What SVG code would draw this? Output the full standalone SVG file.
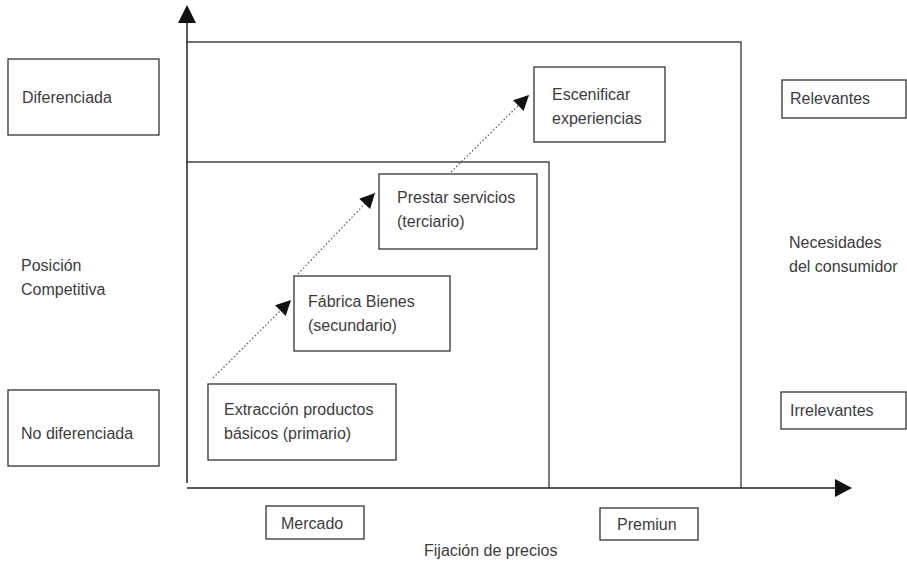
<svg xmlns="http://www.w3.org/2000/svg" width="907" height="562" viewBox="0 0 907 562">
  <style>
    .box { fill: #fff; stroke: #333; stroke-width: 1.3; }
    .frame { fill: none; stroke: #444; stroke-width: 1.4; }
    .axis { fill: none; stroke: #222; stroke-width: 1.5; }
    .step { fill: none; stroke: #555; stroke-width: 1.2; stroke-dasharray: 1.5 2.2; }
    text { font-family: "Liberation Sans", Arial, sans-serif; font-size: 16px; fill: #3c3c3c; }
  </style>
  <defs>
    <marker id="head" viewBox="0 0 10 10" refX="10" refY="5" markerWidth="17" markerHeight="15" markerUnits="userSpaceOnUse" orient="auto">
      <path d="M0,0 L10,5 L0,10 Z" fill="#111"/>
    </marker>
  </defs>

  <rect width="907" height="562" fill="#fff"/>

  <!-- quadrant frames -->
  <g id="frames">
    <polyline class="frame" points="187,42 741,42 741,488"/>
    <polyline class="frame" points="187,162 549,162 549,488"/>
  </g>

  <!-- axes and progression arrows -->
  <g id="connectors">
    <line class="axis" x1="187" y1="483" x2="187" y2="22"/>
    <polygon points="178,23 196,23 187,5" fill="#111"/>
    <line class="axis" x1="187" y1="488" x2="836" y2="488"/>
    <polygon points="835,479 835,497 852,488" fill="#111"/>
    <line class="step" x1="213" y1="378" x2="291" y2="300" marker-end="url(#head)"/>
    <line class="step" x1="298" y1="274" x2="375" y2="193" marker-end="url(#head)"/>
    <line class="step" x1="451" y1="172" x2="529" y2="95" marker-end="url(#head)"/>
  </g>

  <g id="diferenciada">
    <rect class="box" x="8" y="59" width="151" height="76"/>
    <text x="22" y="103">Diferenciada</text>
  </g>
  <g id="posicion">
    <text x="21" y="271">Posición</text>
    <text x="21" y="295">Competitiva</text>
  </g>
  <g id="no-diferenciada">
    <rect class="box" x="8" y="390" width="151" height="76"/>
    <text x="21" y="439">No diferenciada</text>
  </g>

  <g id="extraccion">
    <rect class="box" x="208" y="384" width="188" height="76"/>
    <text x="224" y="415">Extracción productos</text>
    <text x="224" y="439">básicos (primario)</text>
  </g>
  <g id="fabrica">
    <rect class="box" x="294" y="276" width="156" height="75"/>
    <text x="308" y="307">Fábrica Bienes</text>
    <text x="308" y="331">(secundario)</text>
  </g>
  <g id="servicios">
    <rect class="box" x="379" y="174" width="158" height="75"/>
    <text x="397" y="203">Prestar servicios</text>
    <text x="397" y="227">(terciario)</text>
  </g>
  <g id="experiencias">
    <rect class="box" x="534" y="67" width="131" height="75"/>
    <text x="552" y="100">Escenificar</text>
    <text x="552" y="124">experiencias</text>
  </g>

  <g id="relevantes">
    <rect class="box" x="782" y="80" width="124" height="38"/>
    <text x="790" y="104">Relevantes</text>
  </g>
  <g id="necesidades">
    <text x="789" y="248">Necesidades</text>
    <text x="789" y="272">del consumidor</text>
  </g>
  <g id="irrelevantes">
    <rect class="box" x="781" y="392" width="125" height="37"/>
    <text x="790" y="416">Irrelevantes</text>
  </g>

  <g id="mercado">
    <rect class="box" x="266" y="506" width="98" height="33"/>
    <text x="281" y="529">Mercado</text>
  </g>
  <g id="premiun">
    <rect class="box" x="600" y="508" width="98" height="32"/>
    <text x="617" y="530">Premiun</text>
  </g>
  <g id="fijacion">
    <text x="424" y="556">Fijación de precios</text>
  </g>
</svg>
